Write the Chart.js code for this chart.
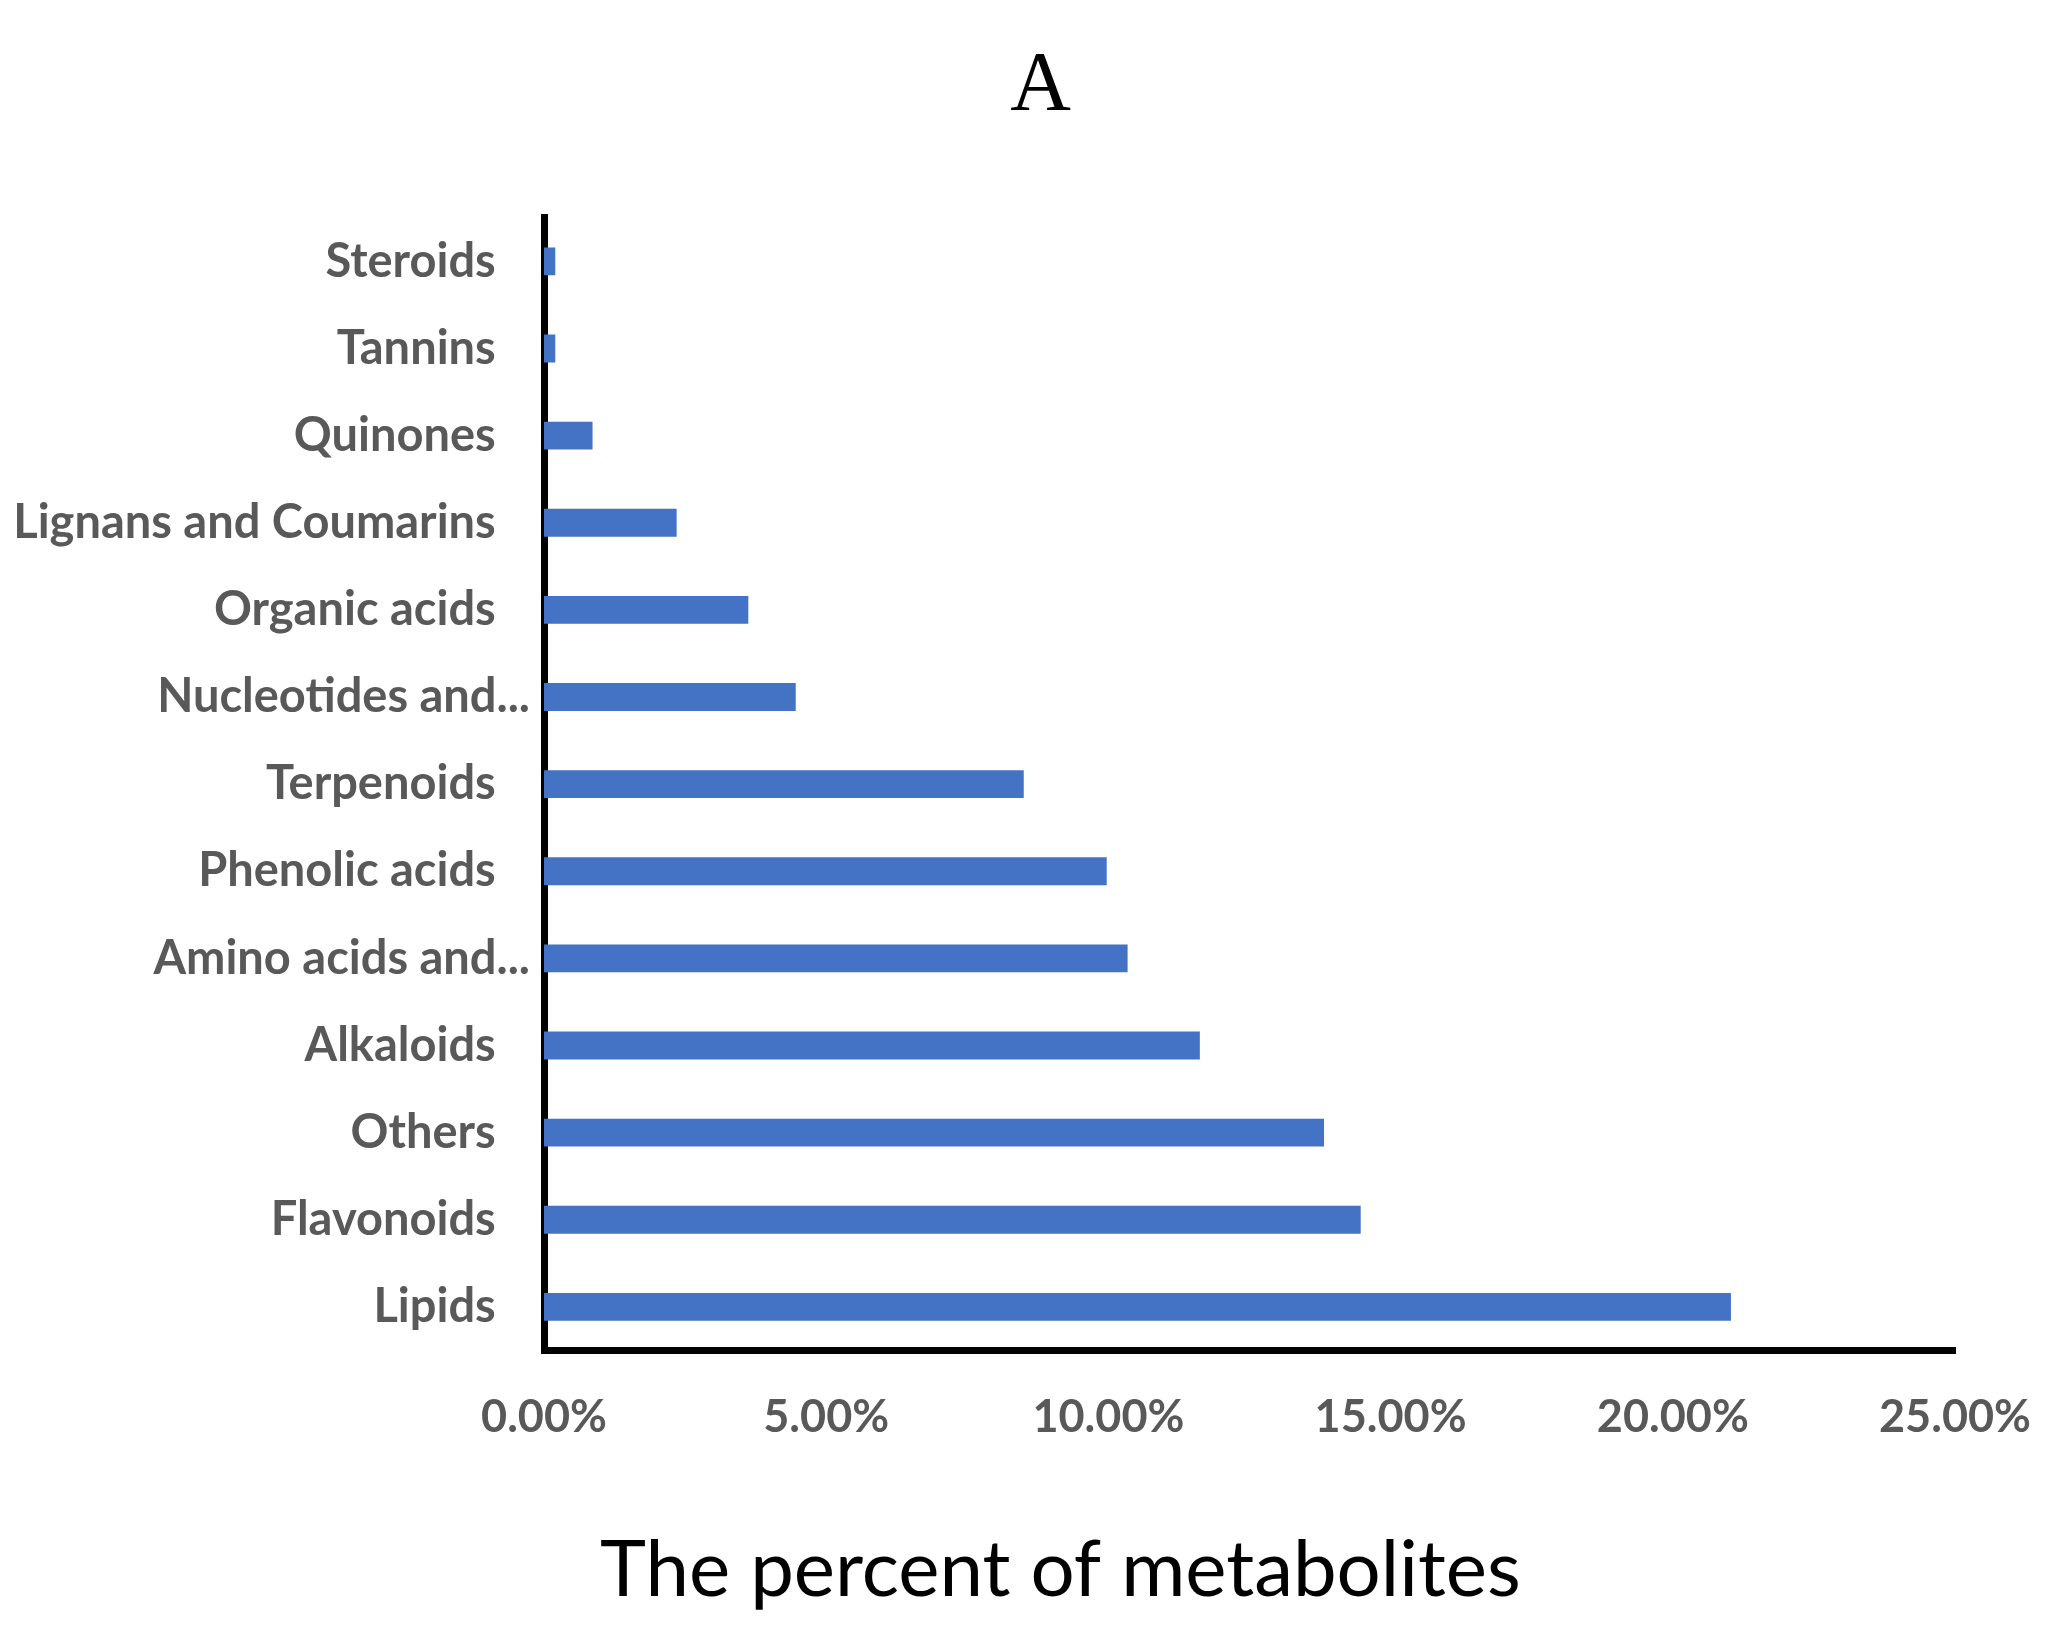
<!DOCTYPE html>
<html lang="en">
<head>
    <meta charset="UTF-8" />
    <title>The percent of metabolites</title>
    <script src="https://cdn.jsdelivr.net/npm/chart.js"></script>
    <style>
        body { margin: 0; background: #fff; }
        canvas { display: block; }
    </style>
</head>
<body>
<canvas id="metaboliteChart" width="2059" height="1644"></canvas>
<script>
    // values, top bar first
    const categories = ['Steroids', 'Tannins', 'Quinones', 'Lignans and Coumarins', 'Organic acids',
        'Nucleotides and...', 'Terpenoids', 'Phenolic acids', 'Amino acids and...', 'Alkaloids',
        'Others', 'Flavonoids', 'Lipids'];
    const percents = [0.20, 0.20, 0.86, 2.35, 3.62, 4.46, 8.50, 9.97, 10.34, 11.62, 13.82, 14.47, 21.03];
    const xTicks = [0, 5, 10, 15, 20, 25];

    const labelColor = '#595959';

    new Chart(document.getElementById('metaboliteChart'), {
        type: 'bar',
        data: {
            labels: categories,
            datasets: [{
                data: percents,
                backgroundColor: '#4472C4',
                barPercentage: 0.32,
                categoryPercentage: 1
            }]
        },
        options: {
            indexAxis: 'y',
            responsive: false,
            animation: false,
            devicePixelRatio: 1,
            layout: { padding: { left: 0, right: 104, top: 0, bottom: 0 } },
            plugins: {
                legend: { display: false },
                tooltip: { enabled: false },
                title: {
                    display: true,
                    // leading spaces push the titles right, as in the original
                    text: '\u2003\u2002A',
                    color: '#000',
                    font: { family: '"Liberation Serif", serif', size: 84, weight: 'normal', lineHeight: 1.2 },
                    padding: { top: 38, bottom: 79 }
                },
                subtitle: {
                    display: true,
                    position: 'bottom',
                    text: '\u2003\u2003\u2002\u2009The percent of metabolites',
                    color: '#000',
                    font: { family: 'Lato, sans-serif', size: 78, weight: 'normal', lineHeight: 1.2 },
                    padding: { top: 40, bottom: 26 }
                }
            },
            scales: {
                x: {
                    type: 'linear',
                    min: 0,
                    max: 25,
                    z: 1,
                    afterBuildTicks: s => { s.ticks = xTicks.map(v => ({ value: v })); },
                    afterFit: s => { s.paddingLeft = 0; s.paddingRight = 0; },
                    grid: { display: false, drawTicks: false },
                    border: { display: true, color: '#000', width: 7 },
                    ticks: {
                        padding: 40,
                        color: labelColor,
                        maxRotation: 0,
                        font: { family: 'Lato, sans-serif', size: 45, weight: 'bold', lineHeight: 1.2 },
                        callback: v => v.toFixed(2) + '%'
                    }
                },
                y: {
                    z: 1,
                    afterFit: s => { s.width = 544; },
                    grid: { display: false, drawTicks: false },
                    border: { display: true, color: '#000', width: 7 },
                    ticks: {
                        padding: 14,
                        color: labelColor,
                        autoSkip: false,
                        font: { family: 'Lato, sans-serif', size: 47, weight: 'bold', lineHeight: 1.2 },
                        // the cut labels sit a little further right in the original
                        callback: function (v, i) {
                            const name = categories[i];
                            return name.endsWith('...') ? name : name + '   ';
                        }
                    }
                }
            }
        }
    });
</script>
</body>
</html>
